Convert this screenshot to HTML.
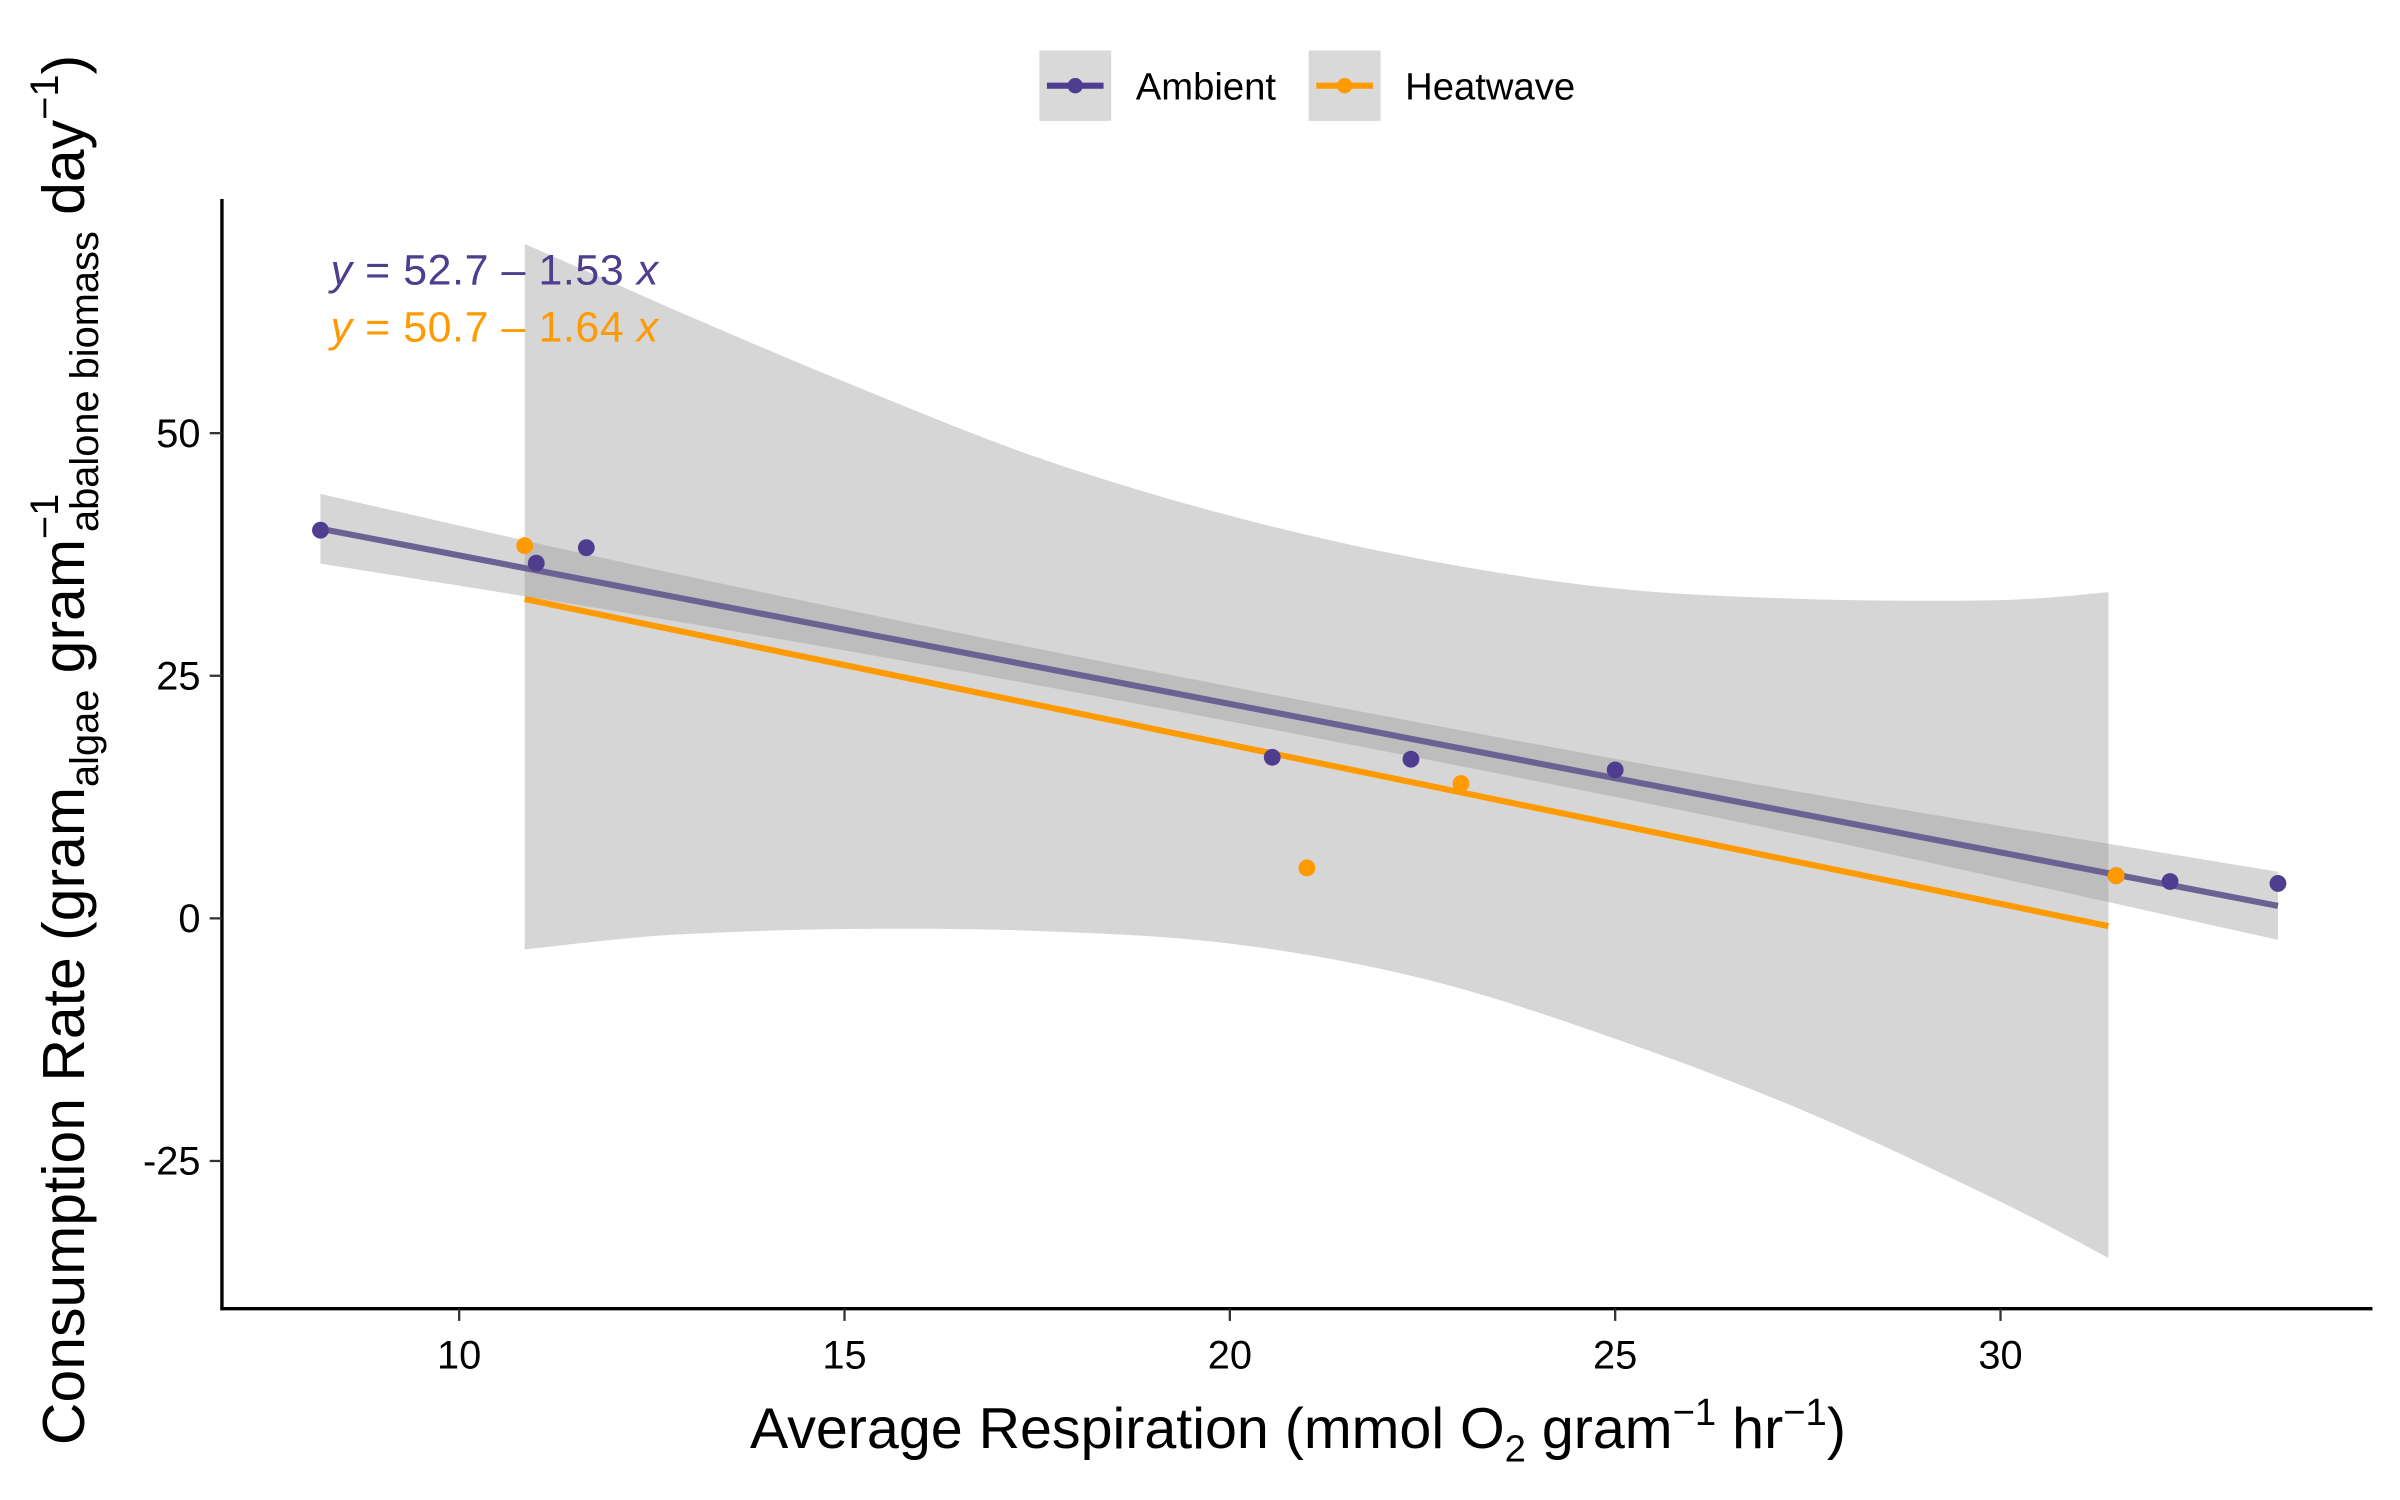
<!DOCTYPE html>
<html><head><meta charset="utf-8"><style>
html,body{margin:0;padding:0;background:#fff}
svg{display:block;font-family:"Liberation Sans",Arial,sans-serif}
</style></head><body>
<svg id="chart" width="2400" height="1500" viewBox="0 0 1568 980" xmlns="http://www.w3.org/2000/svg">
<g id="plot"></g>
<g>
  <g>
    <rect x="679" y="33" width="47" height="46" fill="#d9d9d9"/>
    <line x1="684" y1="56" x2="721" y2="56" stroke="#4f3d8f" stroke-width="4"/>
    <circle cx="702.5" cy="56" r="5" fill="#4f3d8f"/>
    <text x="742" y="65" font-size="25" fill="#000">Ambient</text>
  </g>
  <g>
    <rect x="855" y="33" width="47" height="46" fill="#d9d9d9"/>
    <line x1="860" y1="56" x2="897" y2="56" stroke="#ff9a00" stroke-width="4"/>
    <circle cx="878.5" cy="56" r="5" fill="#ff9a00"/>
    <text x="918" y="65" font-size="25" fill="#000">Heatwave</text>
  </g>
</g>
<text x="216" y="186" font-size="28" fill="#4f3d8f" textLength="214"><tspan font-style="italic">y</tspan> = 52.7 – 1.53 <tspan font-style="italic">x</tspan></text>
<text x="216" y="223" font-size="28" fill="#ff9a00" textLength="214"><tspan font-style="italic">y</tspan> = 50.7 – 1.64 <tspan font-style="italic">x</tspan></text>
<text x="848" y="946" font-size="37.5" text-anchor="middle">Average Respiration (mmol O<tspan font-size="25" dy="9">2</tspan><tspan dy="-9"> gram</tspan><tspan font-size="25" dy="-15">−1</tspan><tspan dy="15"> hr</tspan><tspan font-size="25" dy="-15">−1</tspan><tspan dy="15">)</tspan></text>
<text transform="translate(55,490) rotate(-90)" font-size="38.5" text-anchor="middle">Consumption Rate (gram<tspan font-size="26" dy="9">algae</tspan><tspan dy="-9">  gram</tspan><tspan font-size="26" dy="-17">−1</tspan><tspan font-size="26" dx="-25" dy="26">abalone biomass</tspan><tspan dy="-9">  day</tspan><tspan font-size="26" dy="-17">−1</tspan><tspan dy="17">)</tspan></text>
</svg>
<script>
const xTicks=[10,15,20,25,30];
const yTicks=[50,25,0,-25];
const ambX=[8.2,11.0,11.65,20.55,22.35,25.0,31.5,32.2,33.6];
const ambY=[40.0,36.6,38.2,16.6,16.4,15.3,4.4,3.8,3.6];
const heatX=[10.85,21.0,23.0,31.5];
const heatY=[38.4,5.2,13.9,4.4];
const ambCoef=[52.7,-1.53];
const heatCoef=[50.7,-1.64];
const ambRange=[8.2,33.6];
const heatRange=[10.85,31.4];
const ambBandX=[8.2,12,16,20,24,28,33.6];
const ambBandUp=[43.75,36.9,30.2,23.9,17.9,12.2,4.8];
const ambBandLo=[36.55,31.7,26.2,20.3,14.1,7.6,-2.2];
const heatBandX=[10.85,12,13,15,17.5,20,22.5,25,27.5,30,31.4];
const heatBandUp=[69.5,65.5,62,55.3,47.5,41.5,37,34,32.9,32.8,33.6];
const heatBandLo=[-3.2,-2.2,-1.6,-1.1,-1.3,-2.6,-6.2,-12.4,-20,-29.2,-35];

const NS="http://www.w3.org/2000/svg";
const X=v=>300+(v-10)*50.35;
const Y=v=>600-v*6.34;
const plot=document.getElementById('plot');
function mk(tag,attrs){const e=document.createElementNS(NS,tag);for(const k in attrs)e.setAttribute(k,attrs[k]);plot.appendChild(e);return e;}
function smooth(pts){
  let d='';
  for(let i=0;i<pts.length-1;i++){
    const p0=pts[Math.max(i-1,0)],p1=pts[i],p2=pts[i+1],p3=pts[Math.min(i+2,pts.length-1)];
    const c1=[p1[0]+(p2[0]-p0[0])/6,p1[1]+(p2[1]-p0[1])/6];
    const c2=[p2[0]-(p3[0]-p1[0])/6,p2[1]-(p3[1]-p1[1])/6];
    d+='C'+c1.join(',')+' '+c2.join(',')+' '+p2.join(',');
  }
  return d;
}
function band(xs,up,lo,name){
  const u=xs.map((x,i)=>[X(x),Y(up[i])]);
  const lw=xs.map((x,i)=>[X(x),Y(lo[i])]).reverse();
  const d='M'+u[0].join(',')+smooth(u)+'L'+lw[0].join(',')+smooth(lw)+'Z';
  const e=mk('path',{d:d,fill:'#999999','fill-opacity':0.4});
  
  
}
function line(c,r,col,name){
  const e=mk('line',{x1:X(r[0]),y1:Y(c[0]+c[1]*r[0]),x2:X(r[1]),y2:Y(c[0]+c[1]*r[1]),stroke:col,'stroke-width':4});
  
  
}
band(heatBandX,heatBandUp,heatBandLo,'heatwave-confidence-band');
line(heatCoef,heatRange,'#ff9a00','heatwave-fit-line');
line(ambCoef,ambRange,'#4f3d8f','ambient-fit-line');
band(ambBandX,ambBandUp,ambBandLo,'ambient-confidence-band');
ambX.forEach((x,i)=>{const e=mk('circle',{cx:X(x),cy:Y(ambY[i]),r:5.5,fill:'#4f3d8f'});
  
  });
heatX.forEach((x,i)=>{const e=mk('circle',{cx:X(x),cy:Y(heatY[i]),r:5.5,fill:'#ff9a00'});
  
  });
const ya=mk('line',{x1:145,y1:130,x2:145,y2:856,stroke:'#000','stroke-width':2.2});


const xa=mk('line',{x1:144,y1:855,x2:1550,y2:855,stroke:'#000','stroke-width':2.2});


xTicks.forEach(t=>{
  const l=mk('line',{x1:X(t),y1:855,x2:X(t),y2:863,stroke:'#333','stroke-width':1.5});
  
  
  const tx=mk('text',{x:X(t),y:894,'font-size':26,'text-anchor':'middle',fill:'#000'});
  tx.textContent=t;
  
  
});
yTicks.forEach(t=>{
  const l=mk('line',{x1:137,y1:Y(t),x2:145,y2:Y(t),stroke:'#333','stroke-width':1.5});
  
  
  const tx=mk('text',{x:131,y:Y(t)+9,'font-size':26,'text-anchor':'end',fill:'#000'});
  tx.textContent=t;
  
  
});
</script>
</body></html>
